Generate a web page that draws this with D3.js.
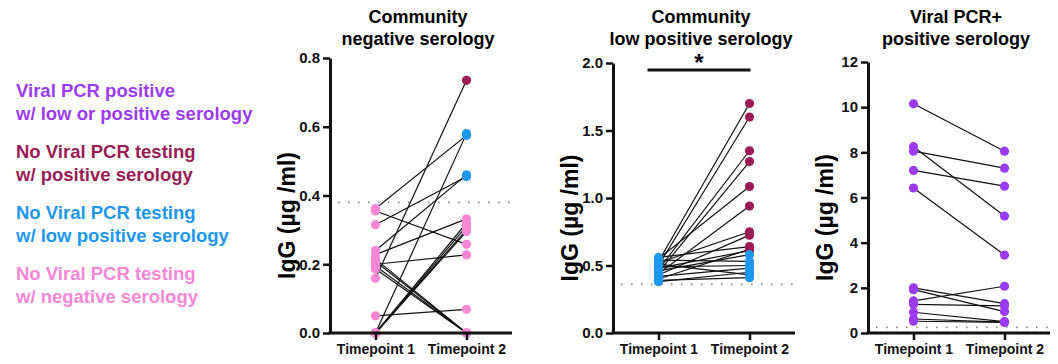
<!DOCTYPE html>
<html>
<head>
<meta charset="utf-8">
<script src="https://cdn.jsdelivr.net/npm/d3@7"></script>
<style>
  body { margin: 0; background: #fff; }
  svg { font-family: Arial, "Liberation Sans", sans-serif; font-weight: bold; }
</style>
</head>
<body>
<div id="chart"></div>
<script>
// groups: V = viral PCR+, P = positive serology, L = low positive, N = negative
const groupColors = { V: '#9a3cf4', P: '#9a1b55', L: '#1d97ef', N: '#fa86d6' };

const legendLines = [
  ['Viral PCR positive', 'w/ low or positive serology'],
  ['No Viral PCR testing', 'w/ positive serology'],
  ['No Viral PCR testing', 'w/ low positive serology'],
  ['No Viral PCR testing', 'w/ negative serology']
];
const legendGroups = ['V', 'P', 'L', 'N'];

const timepoints = ['Timepoint 1', 'Timepoint 2'];

// panel 1: community negative serology
const negTitle = ['Community', 'negative serology'];
const negTicks = [0, 0.2, 0.4, 0.6, 0.8];
const negCutoff = 0.38;
const negT1 = [0.362, 0.355, 0.315, 0.24, 0.228, 0.2, 0.215, 0.208, 0.195, 0.186, 0.159, 0.05, 0, 0, 0, 0, 0];
const negT2 = [0.575, 0.258, 0.455, 0.46, 0.332, 0.227, 0, 0, 0, 0, 0.735, 0.069, 0.58, 0.31, 0.30, 0.295, 0.32];
const negT2Group = ['L', 'N', 'L', 'L', 'N', 'N', 'N', 'N', 'N', 'N', 'P', 'N', 'L', 'N', 'N', 'N', 'N'];

// panel 2: community low positive serology
const lowTitle = ['Community', 'low positive serology'];
const lowTicks = [0, 0.5, 1.0, 1.5, 2.0];
const lowCutoff = 0.36;
const lowT1 = [0.53, 0.50, 0.47, 0.45, 0.55, 0.44, 0.52, 0.43, 0.56, 0.40, 0.48, 0.46, 0.54, 0.49, 0.42, 0.51, 0.39, 0.38];
const lowT2 = [1.70, 1.60, 1.35, 1.27, 1.085, 0.94, 0.75, 0.725, 0.64, 0.62, 0.61, 0.58, 0.53, 0.50, 0.48, 0.43, 0.41, 0.45];
const lowT2Group = ['P', 'P', 'P', 'P', 'P', 'P', 'P', 'P', 'P', 'P', 'P', 'L', 'L', 'L', 'L', 'L', 'L', 'L'];

// panel 3: viral PCR+ positive serology
const pcrTitle = ['Viral PCR+', 'positive serology'];
const pcrTicks = [0, 2, 4, 6, 8, 10, 12];
const pcrCutoff = 0.25;
const pcrT1 = [10.15, 8.25, 8.05, 7.2, 6.42, 2.0, 1.92, 1.42, 1.27, 0.92, 0.62, 0.52];
const pcrT2 = [8.05, 5.18, 7.3, 6.5, 3.45, 1.3, 0.95, 2.07, 1.2, 0.5, 0.48, 0.47];

const panels = [
  { title: negTitle, ticks: negTicks, fmt: '.1f', cutoff: negCutoff, t1: negT1, t2: negT2,
    g1: negT1.map(() => 'N'), g2: negT2Group, left: 330, top: 58, sig: false },
  { title: lowTitle, ticks: lowTicks, fmt: '.1f', cutoff: lowCutoff, t1: lowT1, t2: lowT2,
    g1: lowT1.map(() => 'L'), g2: lowT2Group, left: 613, top: 63, sig: true },
  { title: pcrTitle, ticks: pcrTicks, fmt: 'd', cutoff: pcrCutoff, t1: pcrT1, t2: pcrT2,
    g1: pcrT1.map(() => 'V'), g2: pcrT2.map(() => 'V'), left: 868, top: 62, sig: false }
];

const width = 1058, height = 364;
const bottom = 333;
const plotW = 182;

const svg = d3.select('#chart').append('svg')
  .attr('width', width)
  .attr('height', height);

// legend
const legend = svg.append('g');
legendLines.forEach((lines, i) => {
  const t = legend.append('text')
    .attr('x', 16)
    .attr('y', 97 + i * 61)
    .attr('font-size', '18.5px')
    .attr('fill', groupColors[legendGroups[i]]);
  lines.forEach((l, j) => {
    t.append('tspan').attr('x', 16).attr('dy', j === 0 ? 0 : 22.5).text(l);
  });
});

panels.forEach(p => {
  const x = d3.scalePoint().domain(timepoints).range([p.left, p.left + plotW]).padding(0.5);
  const y = d3.scaleLinear().domain([p.ticks[0], p.ticks[p.ticks.length - 1]]).range([bottom, p.top]);
  const g = svg.append('g');
  const cx = p.left + plotW / 2;

  // title
  p.title.forEach((line, j) => {
    g.append('text')
      .attr('x', cx - 3)
      .attr('y', 23 + j * 22)
      .attr('text-anchor', 'middle')
      .attr('font-size', '18px')
      .text(line);
  });

  // y label
  g.append('text')
    .attr('transform', `translate(${p.left - 35},${(bottom + p.top) / 2 + 20}) rotate(-90)`)
    .attr('text-anchor', 'middle')
    .attr('font-size', '23px')
    .text('IgG (µg /ml)');

  // cutoff dotted line
  g.append('line')
    .attr('x1', p.left + 8).attr('x2', p.left + plotW + 3)
    .attr('y1', y(p.cutoff)).attr('y2', y(p.cutoff))
    .attr('stroke', '#8a8a8a')
    .attr('stroke-width', 1.6)
    .attr('stroke-dasharray', '1.6,8.4');

  // paired lines
  p.t1.forEach((v, i) => {
    g.append('line')
      .attr('x1', x(timepoints[0])).attr('y1', y(v))
      .attr('x2', x(timepoints[1])).attr('y2', y(p.t2[i]))
      .attr('stroke', '#111')
      .attr('stroke-width', 1.2);
  });

  // points
  p.t1.forEach((v, i) => {
    g.append('circle').attr('cx', x(timepoints[0])).attr('cy', y(v)).attr('r', 4.6)
      .attr('fill', groupColors[p.g1[i]]);
  });
  p.t2.forEach((v, i) => {
    g.append('circle').attr('cx', x(timepoints[1])).attr('cy', y(v)).attr('r', 4.6)
      .attr('fill', groupColors[p.g2[i]]);
  });

  // axes
  const yAxis = d3.axisLeft(y).tickValues(p.ticks).tickFormat(d3.format(p.fmt))
    .tickSize(7).tickPadding(3).tickSizeOuter(0);
  const ya = g.append('g').attr('transform', `translate(${p.left},0)`).call(yAxis);
  ya.selectAll('text').attr('font-size', '15px').attr('fill', '#111').style('font-family', 'inherit');
  ya.selectAll('line').attr('stroke', '#111').attr('stroke-width', 2.5);
  ya.select('.domain').attr('stroke', '#111').attr('stroke-width', 3);

  const xAxis = d3.axisBottom(x).tickSize(7).tickPadding(4).tickSizeOuter(0);
  const xa = g.append('g').attr('transform', `translate(0,${bottom})`).call(xAxis);
  xa.selectAll('text').attr('font-size', '14px').attr('fill', '#111').style('font-family', 'inherit');
  xa.selectAll('line').attr('stroke', '#111').attr('stroke-width', 2.5);
  xa.select('.domain').attr('stroke', '#111').attr('stroke-width', 3)
    .attr('d', `M${p.left - 1.5},0H${p.left + plotW}`);

  // significance bar
  if (p.sig) {
    const x1 = x(timepoints[0]) - 11, x2 = x(timepoints[1]) + 1;
    g.append('line')
      .attr('x1', x1).attr('x2', x2).attr('y1', 70).attr('y2', 70)
      .attr('stroke', '#111').attr('stroke-width', 3);
    g.append('text')
      .attr('x', (x1 + x2) / 2).attr('y', 71)
      .attr('text-anchor', 'middle')
      .attr('font-size', '24px')
      .text('*');
  }
});
</script>
</body>
</html>
